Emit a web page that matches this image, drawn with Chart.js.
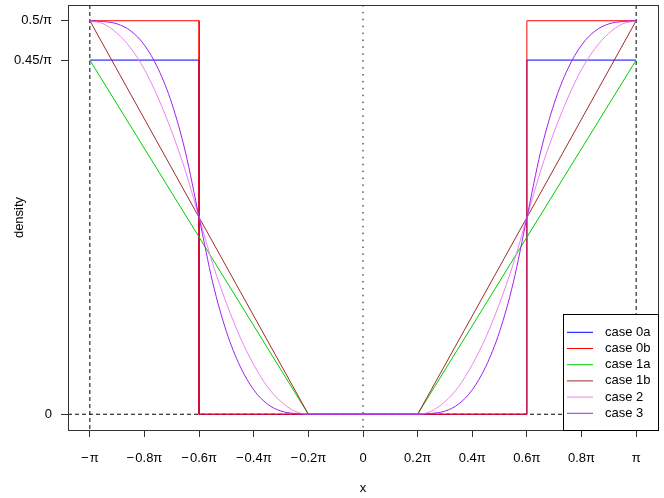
<!DOCTYPE html>
<html>
<head>
<meta charset="utf-8">
<script src="https://cdn.jsdelivr.net/npm/chart.js@4/dist/chart.umd.min.js"></script>
<style>
html,body{margin:0;padding:0;background:#fff;}
#wrap{position:relative;width:664px;height:498px;}
</style>
</head>
<body>
<div id="wrap"><canvas id="c" width="664" height="498"></canvas></div>
<script>
// x values are in multiples of pi, y values in multiples of 1/pi
const xTicks = [-1, -0.8, -0.6, -0.4, -0.2, 0, 0.2, 0.4, 0.6, 0.8, 1];
const xTickLabels = ["\u2212\u200a\u03c0", "\u2212\u200a0.8\u03c0", "\u2212\u200a0.6\u03c0", "\u2212\u200a0.4\u03c0", "\u2212\u200a0.2\u03c0", "0", "0.2\u03c0", "0.4\u03c0", "0.6\u03c0", "0.8\u03c0", "\u03c0"];
const yTicks = [0, 0.45, 0.5];
const yTickLabels = ["0", "0.45/\u03c0", "0.5/\u03c0"];

const seriesNames = ["case 0a", "case 0b", "case 1a", "case 1b", "case 2", "case 3"];
const seriesColors = ["#0000ff", "#ff0000", "#00cd00", "#a52a2a", "#ee82ee", "#a020f0"];

const case0X  = [-1, -0.6, -0.6, 0.6, 0.6, 1];
const case0aY = [0.45, 0.45, 0, 0, 0.45, 0.45];
const case0bY = [0.5, 0.5, 0, 0, 0.5, 0.5];

const case1X  = [-1, -0.2, 0.2, 1];
const case1aY = [0.45, 0, 0, 0.45];
const case1bY = [0.5, 0, 0, 0.5];

const smoothX = [-1, -0.95, -0.9, -0.85, -0.8, -0.75, -0.7, -0.65, -0.6, -0.55, -0.5, -0.45, -0.4, -0.35, -0.3, -0.25, -0.2,
                 0.2, 0.25, 0.3, 0.35, 0.4, 0.45, 0.5, 0.55, 0.6, 0.65, 0.7, 0.75, 0.8, 0.85, 0.9, 0.95, 1];
const case2Y = [0.500, 0.496, 0.484, 0.465, 0.438, 0.402, 0.359, 0.309, 0.250, 0.191, 0.141, 0.098, 0.063, 0.035, 0.016, 0.004, 0.000,
                0.000, 0.004, 0.016, 0.035, 0.063, 0.098, 0.141, 0.191, 0.250, 0.309, 0.359, 0.402, 0.438, 0.465, 0.484, 0.496, 0.500];
const case3Y = [0.500, 0.499, 0.496, 0.487, 0.469, 0.439, 0.395, 0.333, 0.250, 0.167, 0.105, 0.061, 0.031, 0.013, 0.004, 0.001, 0.000,
                0.000, 0.001, 0.004, 0.013, 0.031, 0.061, 0.105, 0.167, 0.250, 0.333, 0.395, 0.439, 0.469, 0.487, 0.496, 0.499, 0.500];

const FONT = "'Liberation Sans', Arial, Helvetica, sans-serif";

function zip(xs, ys) { return xs.map((x, i) => ({x: x, y: ys[i]})); }

const seriesData = [
  zip(case0X, case0aY), zip(case0X, case0bY),
  zip(case1X, case1aY), zip(case1X, case1bY),
  zip(smoothX, case2Y), zip(smoothX, case3Y)
];

const datasets = seriesData.map((d, i) => ({
  label: seriesNames[i],
  data: d,
  borderColor: seriesColors[i],
  backgroundColor: seriesColors[i],
  borderWidth: 1,
  pointRadius: 0,
  fill: false,
  tension: 0,
  cubicInterpolationMode: i >= 4 ? 'monotone' : 'default',
  order: 5 - i
}));

const refLines = {
  id: 'refLines',
  beforeDatasetsDraw(chart) {
    const {ctx, chartArea: a, scales: {x, y}} = chart;
    ctx.save();
    ctx.strokeStyle = '#000';
    ctx.lineWidth = 1;
    ctx.setLineDash([4, 3]);
    [-1, 1].forEach(v => {
      const px = x.getPixelForValue(v);
      ctx.beginPath(); ctx.moveTo(px, a.top); ctx.lineTo(px, a.bottom); ctx.stroke();
    });
    const py = y.getPixelForValue(0);
    ctx.beginPath(); ctx.moveTo(a.left, py); ctx.lineTo(a.right, py); ctx.stroke();
    ctx.setLineDash([1.5, 5.4]);
    const p0 = x.getPixelForValue(0);
    ctx.beginPath(); ctx.moveTo(p0, a.top); ctx.lineTo(p0, a.bottom); ctx.stroke();
    ctx.restore();
  },
  afterDraw(chart) {
    const {ctx, chartArea: a} = chart;
    ctx.save();
    ctx.strokeStyle = '#333';
    ctx.lineWidth = 1;
    ctx.strokeRect(Math.round(a.left) + 0.5, Math.round(a.top) + 0.5, Math.round(a.right - a.left), Math.round(a.bottom - a.top));
    // legend
    const lx = 563, ly = 314, lw = Math.round(a.right) - 563, lh = Math.round(a.bottom) - 314;
    ctx.fillStyle = '#fff';
    ctx.fillRect(lx, ly, lw, lh);
    ctx.strokeStyle = '#000';
    ctx.strokeRect(lx + 0.5, ly + 0.5, lw, lh);
    ctx.font = '13px ' + FONT;
    ctx.textBaseline = 'middle';
    ctx.textAlign = 'left';
    seriesNames.forEach((n, i) => {
      const yy = 332.3 + i * 16.2;
      ctx.strokeStyle = seriesColors[i];
      ctx.beginPath(); ctx.moveTo(567, yy); ctx.lineTo(593, yy); ctx.stroke();
      ctx.fillStyle = '#000';
      ctx.fillText(n, 605, yy);
    });
    ctx.restore();
  }
};

function noPad(s) { s.paddingTop = 0; s.paddingBottom = 0; s.paddingLeft = 0; s.paddingRight = 0; }

new Chart(document.getElementById('c'), {
  type: 'line',
  data: {datasets: datasets},
  plugins: [refLines],
  options: {
    responsive: false,
    animation: false,
    devicePixelRatio: 1,
    layout: {padding: {top: 5, right: 6, left: 0, bottom: 0}},
    plugins: {legend: {display: false}, tooltip: {enabled: false}},
    scales: {
      x: {
        type: 'linear', min: -1.08, max: 1.08,
        afterBuildTicks: s => { s.ticks = xTicks.map(v => ({value: v})); },
        afterFit: s => { s.height = 68; noPad(s); },
        ticks: {
          autoSkip: false, maxRotation: 0, padding: 14, color: '#000',
          font: {family: FONT, size: 13},
          callback: v => xTickLabels[xTicks.indexOf(v)]
        },
        grid: {display: true, drawOnChartArea: false, drawTicks: true, tickLength: 7, color: '#333', lineWidth: 1},
        border: {display: false},
        title: {display: true, text: 'x', color: '#000', font: {family: FONT, size: 13}, padding: {top: 0, bottom: 2}}
      },
      y: {
        type: 'linear', min: -0.02, max: 0.52,
        afterBuildTicks: s => { s.ticks = yTicks.map(v => ({value: v})); },
        afterFit: s => { s.width = 68; noPad(s); },
        ticks: {
          autoSkip: false, padding: 9, color: '#000',
          font: {family: FONT, size: 13},
          callback: v => yTickLabels[yTicks.indexOf(v)]
        },
        grid: {display: true, drawOnChartArea: false, drawTicks: true, tickLength: 7, color: '#333', lineWidth: 1},
        border: {display: false},
        title: {display: true, text: 'density', color: '#000', font: {family: FONT, size: 13}, padding: {top: 12, bottom: 0}}
      }
    }
  }
});
</script>
</body>
</html>
